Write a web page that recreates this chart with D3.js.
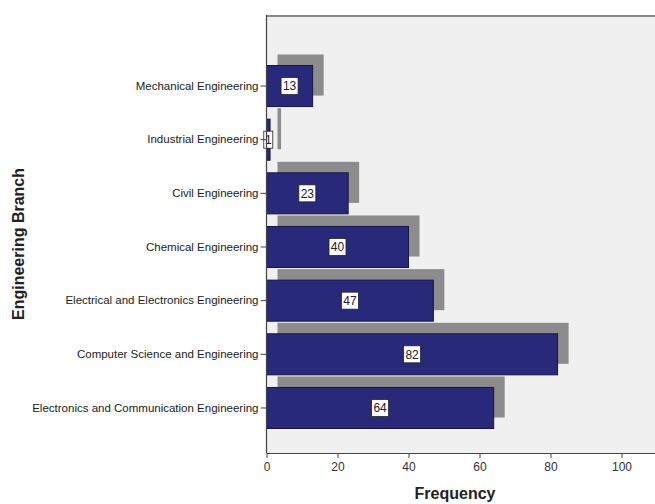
<!DOCTYPE html>
<html>
<head>
<meta charset="utf-8">
<script src="https://cdn.jsdelivr.net/npm/d3@7/dist/d3.min.js"></script>
<style>
  html, body { margin: 0; padding: 0; background: #ffffff; }
  svg { display: block; }
</style>
</head>
<body>
<svg id="chart" width="655" height="504"></svg>
<script>
// Engineering branch counts
const branches = [
  "Mechanical Engineering",
  "Industrial Engineering",
  "Civil Engineering",
  "Chemical Engineering",
  "Electrical and Electronics Engineering",
  "Computer Science and Engineering",
  "Electronics and Communication Engineering"
];
const frequency = [13, 1, 23, 40, 47, 82, 64];
const xTicks = [0, 20, 40, 60, 80, 100];

const data = branches.map((b, i) => ({ branch: b, value: frequency[i] }));

const svg = d3.select("#chart");
const W = 655, H = 504;
const FONT = "Liberation Sans, Arial, sans-serif";

const plot = { left: 266.5, top: 15, right: 657, bottom: 453 };

const x = d3.scaleLinear().domain([0, 110]).range([plot.left, plot.right]);
const y = d3.scaleBand()
  .domain(branches)
  .range([59.2, 434.8])
  .paddingInner(0.235)
  .paddingOuter(0.1175);

// plot background
svg.append("rect")
  .attr("x", plot.left).attr("y", plot.top)
  .attr("width", plot.right - plot.left).attr("height", plot.bottom - plot.top)
  .attr("fill", "#f0f0f0");

// top frame line
svg.append("line")
  .attr("x1", plot.left).attr("x2", W)
  .attr("y1", plot.top + 1).attr("y2", plot.top + 1)
  .attr("stroke", "#8a8a8a").attr("stroke-width", 2);

// drop shadows
const shadowDx = 11, shadowDy = -11;
svg.append("g").selectAll("rect")
  .data(data).join("rect")
  .attr("x", d => x(0) + shadowDx)
  .attr("y", d => y(d.branch) + shadowDy)
  .attr("width", d => x(d.value) - x(0))
  .attr("height", y.bandwidth())
  .attr("fill", "#8c8c8c");

// bars
svg.append("g").selectAll("rect")
  .data(data).join("rect")
  .attr("x", x(0))
  .attr("y", d => y(d.branch))
  .attr("width", d => x(d.value) - x(0))
  .attr("height", y.bandwidth())
  .attr("fill", "#28297a")
  .attr("stroke", "#14154a")
  .attr("stroke-width", 1);

// value labels in white boxes
const labels = svg.append("g").selectAll("g")
  .data(data).join("g")
  .attr("transform", d => `translate(${(x(0) + x(d.value)) / 2},${y(d.branch) + y.bandwidth() / 2})`);

labels.append("rect")
  .attr("x", d => d.value < 10 ? -4.5 : -8.5)
  .attr("y", -8.5)
  .attr("width", d => d.value < 10 ? 9 : 17)
  .attr("height", 17)
  .attr("fill", "#ffffff")
  .attr("stroke", "#222")
  .attr("stroke-width", 0.8);

labels.append("text")
  .attr("text-anchor", "middle")
  .attr("dy", "0.36em")
  .attr("font-family", FONT)
  .attr("font-size", 12)
  .attr("fill", "#222")
  .text(d => d.value);

// x axis
const xAxis = svg.append("g")
  .attr("transform", `translate(0,${plot.bottom})`)
  .call(d3.axisBottom(x).tickValues(xTicks).tickSize(5).tickPadding(4).tickSizeOuter(0));
xAxis.select(".domain").attr("stroke", "#444").attr("stroke-width", 1.2);
xAxis.selectAll(".tick line").attr("stroke", "#444");
xAxis.selectAll(".tick text")
  .attr("font-family", FONT)
  .attr("font-size", 12)
  .attr("fill", "#333");

// y axis
const yAxis = svg.append("g")
  .attr("transform", `translate(${plot.left},0)`)
  .call(d3.axisLeft(y).tickSize(6).tickPadding(2).tickSizeOuter(0));
yAxis.select(".domain").attr("d", `M0,${plot.top}V${plot.bottom}`)
  .attr("stroke", "#444").attr("stroke-width", 1.2);
yAxis.selectAll(".tick line").attr("stroke", "#444");
yAxis.selectAll(".tick text")
  .attr("font-family", FONT)
  .attr("font-size", 11.5)
  .attr("fill", "#222");

// axis titles
svg.append("text")
  .attr("x", 455).attr("y", 499)
  .attr("text-anchor", "middle")
  .attr("font-family", FONT)
  .attr("font-weight", "bold")
  .attr("font-size", 16)
  .attr("fill", "#222")
  .text("Frequency");

svg.append("text")
  .attr("transform", "translate(24,244) rotate(-90)")
  .attr("text-anchor", "middle")
  .attr("font-family", FONT)
  .attr("font-weight", "bold")
  .attr("font-size", 16)
  .attr("fill", "#222")
  .text("Engineering Branch");
</script>
</body>
</html>
